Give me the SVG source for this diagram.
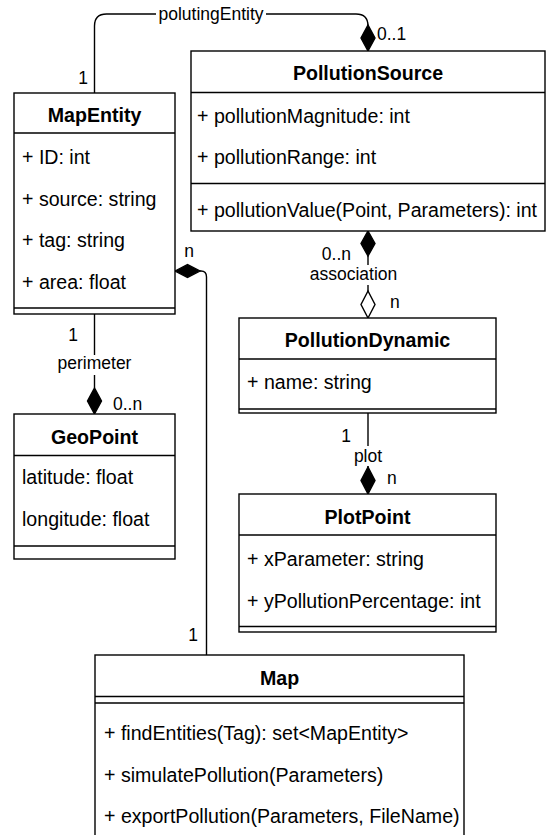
<svg xmlns="http://www.w3.org/2000/svg" width="548" height="835" viewBox="0 0 548 835">
<style>
.box{fill:#fff;stroke:#000;stroke-width:1.4}
.ln{fill:none;stroke:#000;stroke-width:1.4}
.t{font-family:"Liberation Sans",Arial,sans-serif;font-size:19.6px;fill:#000}
.h{font-family:"Liberation Sans",Arial,sans-serif;font-size:19.6px;font-weight:bold;fill:#000;text-anchor:middle}
.l{font-family:"Liberation Sans",Arial,sans-serif;font-size:17.5px;fill:#000}
.fd{fill:#000;stroke:#000;stroke-width:1.4}
.hd{fill:#fff;stroke:#000;stroke-width:1.4}
.bg{fill:#fff;stroke:none}
</style>
<rect width="548" height="835" fill="#fff"/>
<g id="connectors">
  <path class="ln" d="M94.5,93 V26 Q94.5,14 106.5,14 H356 Q368,14 368,26"/>
  <path class="fd" d="M368,51 L375,38 L368,25 L361,38 Z"/>
  <rect class="bg" x="156" y="4" width="110" height="20"/>
  <text class="l" x="211" y="20" text-anchor="middle">polutingEntity</text>
  <text class="l" x="88" y="84" text-anchor="end">1</text>
  <text class="l" x="377" y="40">0..1</text>

  <path class="ln" d="M94.5,314 V388"/>
  <path class="fd" d="M94.5,414 L101.5,401 L94.5,388 L87.5,401 Z"/>
  <rect class="bg" x="55" y="355" width="80" height="20"/>
  <text class="l" x="94.5" y="368.5" text-anchor="middle">perimeter</text>
  <text class="l" x="78" y="341" text-anchor="end">1</text>
  <text class="l" x="113" y="409.5">0..n</text>

  <path class="ln" d="M368,256 V292"/>
  <path class="fd" d="M368,231 L375,243.5 L368,256 L361,243.5 Z"/>
  <path class="hd" d="M368,318 L375,304.5 L368,291 L361,304.5 Z"/>
  <rect class="bg" x="308" y="265" width="92" height="20"/>
  <text class="l" x="353.5" y="280" text-anchor="middle">association</text>
  <text class="l" x="351" y="259.5" text-anchor="end">0..n</text>
  <text class="l" x="390" y="307.5">n</text>

  <path class="ln" d="M368,413 V467"/>
  <path class="fd" d="M368,494 L375,480.5 L368,467 L361,480.5 Z"/>
  <rect class="bg" x="350" y="446" width="36" height="20"/>
  <text class="l" x="368" y="461.5" text-anchor="middle">plot</text>
  <text class="l" x="351" y="441.5" text-anchor="end">1</text>
  <text class="l" x="387" y="484">n</text>

  <path class="ln" d="M200,271 H201 Q206.5,271 206.5,277 V655"/>
  <path class="fd" d="M175,271 L187.5,264.5 L200,271 L187.5,277.5 Z"/>
  <text class="l" x="189" y="257" text-anchor="middle">n</text>
  <text class="l" x="198" y="641" text-anchor="end">1</text>
</g>
<g id="MapEntity">
  <rect class="box" x="14" y="93" width="161" height="221"/>
  <line class="ln" x1="14" y1="133" x2="175" y2="133"/>
  <line class="ln" x1="14" y1="308" x2="175" y2="308"/>
  <text class="h" x="94.5" y="121.5">MapEntity</text>
  <text class="t" x="22" y="164">+ ID: int</text>
  <text class="t" x="22" y="205.5">+ source: string</text>
  <text class="t" x="22" y="247">+ tag: string</text>
  <text class="t" x="22" y="288.5">+ area: float</text>
</g>
<g id="PollutionSource">
  <rect class="box" x="191" y="51" width="354" height="180"/>
  <line class="ln" x1="191" y1="92.5" x2="545" y2="92.5"/>
  <line class="ln" x1="191" y1="183.5" x2="545" y2="183.5"/>
  <text class="h" x="368" y="80">PollutionSource</text>
  <text class="t" x="197" y="122.5">+ pollutionMagnitude: int</text>
  <text class="t" x="197" y="164">+ pollutionRange: int</text>
  <text class="t" x="197" y="217">+ pollutionValue(Point, Parameters): int</text>
</g>
<g id="GeoPoint">
  <rect class="box" x="14" y="414" width="161" height="145"/>
  <line class="ln" x1="14" y1="455.5" x2="175" y2="455.5"/>
  <line class="ln" x1="14" y1="546" x2="175" y2="546"/>
  <text class="h" x="94.5" y="443.5">GeoPoint</text>
  <text class="t" x="22" y="484">latitude: float</text>
  <text class="t" x="22" y="525.5">longitude: float</text>
</g>
<g id="PollutionDynamic">
  <rect class="box" x="239" y="318" width="257" height="95"/>
  <line class="ln" x1="239" y1="359" x2="496" y2="359"/>
  <line class="ln" x1="239" y1="409" x2="496" y2="409"/>
  <text class="h" x="367.5" y="347">PollutionDynamic</text>
  <text class="t" x="247" y="389">+ name: string</text>
</g>
<g id="PlotPoint">
  <rect class="box" x="239" y="494" width="257" height="138"/>
  <line class="ln" x1="239" y1="535" x2="496" y2="535"/>
  <line class="ln" x1="239" y1="626.5" x2="496" y2="626.5"/>
  <text class="h" x="367.5" y="523.5">PlotPoint</text>
  <text class="t" x="247" y="566">+ xParameter: string</text>
  <text class="t" x="247" y="607.5">+ yPollutionPercentage: int</text>
</g>
<g id="Map">
  <rect class="box" x="95" y="655" width="369" height="200"/>
  <line class="ln" x1="95" y1="696.5" x2="464" y2="696.5"/>
  <line class="ln" x1="95" y1="703" x2="464" y2="703"/>
  <text class="h" x="279.5" y="685">Map</text>
  <text class="t" x="104" y="740">+ findEntities(Tag): set&lt;MapEntity&gt;</text>
  <text class="t" x="104" y="781.5">+ simulatePollution(Parameters)</text>
  <text class="t" x="104" y="823">+ exportPollution(Parameters, FileName)</text>
</g>
</svg>
